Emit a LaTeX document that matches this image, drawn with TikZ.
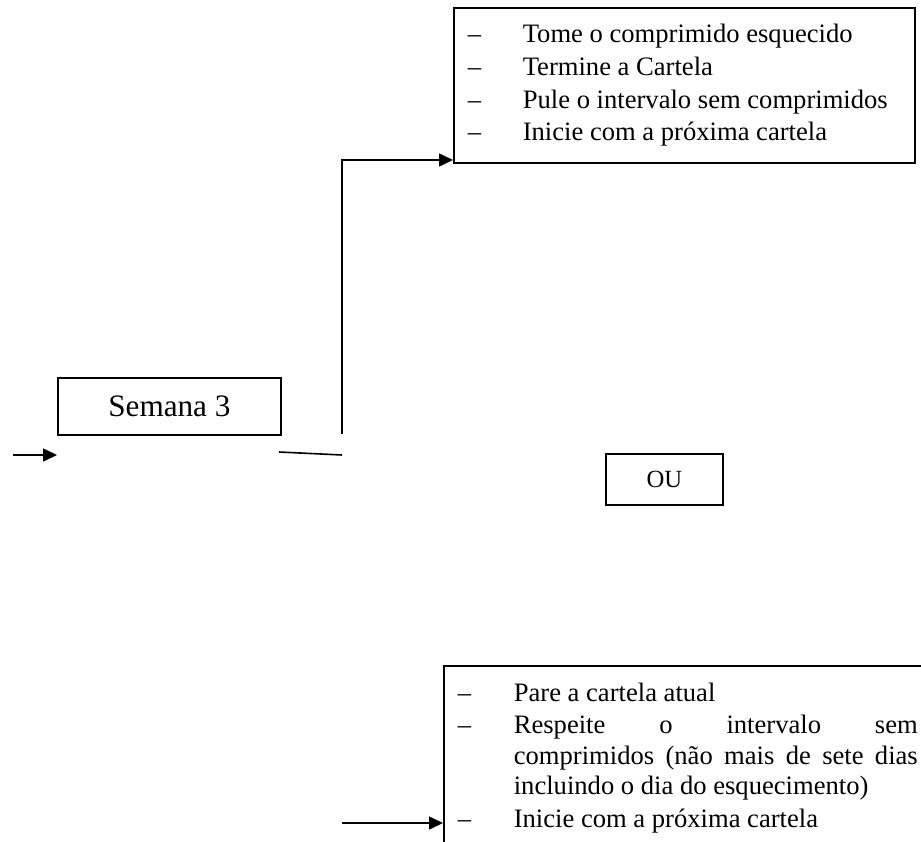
\documentclass[tikz,border=0pt]{standalone}
\usepackage{fontspec}
\setmainfont{Liberation Serif}
\usetikzlibrary{arrows.meta}
\begin{document}
\begin{tikzpicture}[x=1pt,y=-1pt,line width=1.6pt,
  box/.style={draw,line width=1.8pt,inner sep=0pt,anchor=north west},
  lst/.style={font=\fontsize{26.6}{33}\selectfont,anchor=base west,inner sep=0pt},
  arr/.style={-{Triangle[length=14pt,width=13pt]},line width=1.6pt}]
\useasboundingbox (0,0) rectangle (921,842);
\clip (0,0) rectangle (921,842);

% top box
\node[box,minimum width=461pt,minimum height=155pt] (top) at (453,7) {};
\node[lst] (t1d) at (467,43) {–};
\node[lst] (t1) at (522,43) {Tome o comprimido esquecido};
\node[lst] (t2d) at (467,76) {–};
\node[lst] (t2) at (522,76) {Termine a Cartela};
\node[lst] (t3d) at (467,109) {–};
\node[lst] (t3) at (522,109) {Pule o intervalo sem comprimidos};
\node[lst] (t4d) at (467,141) {–};
\node[lst] (t4) at (522,141) {Inicie com a próxima cartela};

% Semana 3
\node[box,minimum width=223pt,minimum height=57pt,font=\fontsize{31.2}{36}\selectfont] (sem) at (57,377) {Semana 3};

% OU
\node[box,minimum width=117pt,minimum height=51pt,font=\fontsize{24.7}{29}\selectfont] (ou) at (605,453) {OU};

% bottom box
\node[box,minimum width=520pt,minimum height=220pt] (bot) at (443,665) {};
\node[lst] (b1d) at (457,701) {–};
\node[lst] (b1) at (513,701) {Pare a cartela atual};
\node[lst] (b2d) at (457,733) {–};
\node[lst] (b2) at (513,733) {\makebox[404pt][s]{Respeite\hfill o\hfill intervalo\hfill sem}};
\node[lst] (b3) at (513,764) {\makebox[404pt][s]{comprimidos\hfill (não\hfill mais\hfill de\hfill sete\hfill dias}};
\node[lst] (b4) at (513,794) {incluindo o dia do esquecimento)};
\node[lst] (b5d) at (457,827) {–};
\node[lst] (b5) at (513,827) {Inicie com a próxima cartela};

% connectors
\coordinate (lin) at (13,455);
\coordinate (lend) at (57,455);
\draw[arr] (lin) -- (lend);
\coordinate (a1) at (279,452);
\coordinate (a2) at (342,455);
\draw (a1) -- (a2);
\coordinate (v0) at (342,434);
\coordinate (tin) at (453,160);
\draw[arr] (v0) |- (tin);
\coordinate (b0) at (342,823);
\draw[arr] (b0) -- (bot.west |- b0);
\end{tikzpicture}
\end{document}
